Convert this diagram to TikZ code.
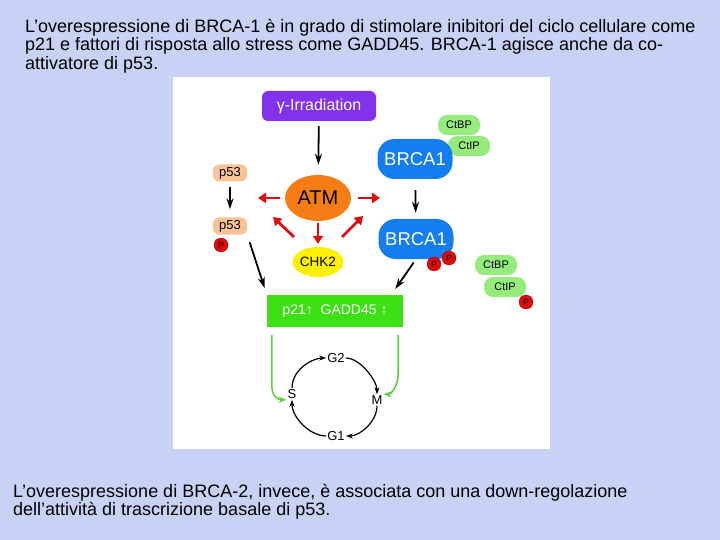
\documentclass[tikz,border=0pt]{standalone}
\usepackage{fontspec}
\setmainfont{Liberation Sans}
\usetikzlibrary{arrows.meta, positioning, shapes.geometric}

\definecolor{slidebg}{RGB}{200,210,245}
\definecolor{gammapurple}{RGB}{130,50,235}
\definecolor{atmorange}{RGB}{245,125,20}
\definecolor{chkyellow}{RGB}{255,240,0}
\definecolor{peach}{RGB}{250,195,150}
\definecolor{brcablue}{RGB}{20,125,240}
\definecolor{palegreen}{RGB}{150,235,125}
\definecolor{boxgreen}{RGB}{60,225,20}
\definecolor{arrowgreen}{RGB}{90,210,60}
\definecolor{pred}{RGB}{225,10,10}

\begin{document}
\begin{tikzpicture}[
  x=1pt, y=-1pt,
  slidetext/.style={anchor=base west, inner sep=0pt, font=\fontsize{18}{18}\selectfont},
  prot/.style={rectangle, rounded corners=6pt, minimum width=34pt, minimum height=17pt, inner sep=0pt, font=\fontsize{13}{13}\selectfont},
  partner/.style={rectangle, rounded corners=9pt, fill=palegreen, minimum width=42pt, minimum height=20pt, inner sep=0pt, font=\fontsize{11}{11}\selectfont},
  brca/.style={rectangle, rounded corners=17pt, fill=brcablue, text=white, minimum width=75pt, minimum height=40pt, inner sep=0pt, font=\fontsize{18.5}{18.5}\selectfont},
  phos/.style={circle, fill=pred, draw=red!60!black, line width=0.3pt, minimum size=14pt, inner sep=0pt, font=\fontsize{9}{9}\selectfont},
  phase/.style={inner sep=1pt, font=\fontsize{13}{13}\selectfont},
  blk/.style={-{Stealth[length=11pt,width=7pt]}, line width=1.8pt},
  redarr/.style={-{Triangle[length=8pt,width=10pt]}, line width=2.8pt, draw=pred},
  grnarr/.style={-{Stealth[length=8pt,width=6pt]}, line width=1.6pt, draw=arrowgreen},
  cyc/.style={-{Stealth[length=7pt,width=5pt]}, line width=1.2pt},
]
  % slide background and white panel
  \fill[slidebg] (0,0) rectangle (720,540);
  \useasboundingbox (0,0) rectangle (720,540);
  \fill[white] (173,77) rectangle (550,449);

  % text above the figure
  \node[slidetext] (title1) at (25,32.5) {L’overespressione di BRCA-1 è in grado di stimolare inibitori del ciclo cellulare come};
  \node[slidetext] (title2) at (25,51) {p21 e fattori di risposta allo stress come GADD45. BRCA-1 agisce anche da co-};
  \node[slidetext] (title3) at (25,69.5) {attivatore di p53.};

  % upstream signal
  \node[rectangle, rounded corners=6pt, fill=gammapurple, text=white, minimum width=114pt, minimum height=30pt, inner sep=0pt, font=\fontsize{16}{16}\selectfont] (gamma) at (319,106) {γ-Irradiation};
  \node[ellipse, fill=atmorange, minimum width=66pt, minimum height=46pt, inner sep=0pt, font=\fontsize{20}{20}\selectfont] (atm) at (318,198) {ATM};
  \node[ellipse, fill=chkyellow, minimum width=44pt, minimum height=30pt, inner sep=0pt, font=\fontsize{13.5}{13.5}\selectfont] (chk2) at (318,262) {CHK2};

  % p53 side
  \node[prot, fill=peach] (p53a) at (230,173) {p53};
  \node[prot, fill=peach] (p53b) at (230,226) {p53};
  \node[phos] (p53p) at (221,245) {P};

  % BRCA1 side
  \node[partner] (ctbpa) at (459,125) {CtBP};
  \node[partner] (ctipa) at (469,146) {CtIP};
  \node[brca] (brcaa) at (415,159) {BRCA1};
  \node[brca] (brcab) at (416,239) {BRCA1};
  \node[phos] (brcap1) at (434,264) {P};
  \node[phos] (brcap2) at (449,258) {P};
  \node[partner] (ctbpb) at (496,265) {CtBP};
  \node[partner] (ctipb) at (505,287) {CtIP};
  \node[phos] (ctipp) at (526,302) {P};

  % target genes
  \node[rectangle, fill=boxgreen, text=white, minimum width=136pt, minimum height=32pt, inner sep=0pt, font=\fontsize{14}{14}\selectfont] (gbox) at (335,311) {p21\textbf{↑}\ \ GADD45 \textbf{↑}};

  % cell cycle
  \node[phase] (g2) at (336,358) {G2};
  \node[phase] (sph) at (292,394) {S};
  \node[phase] (mph) at (377,400) {M};
  \node[phase] (g1) at (336,436) {G1};

  % free ends of the ATM arrows
  \coordinate (atmleft) at (258,198);
  \coordinate (atmright) at (380,198);
  \coordinate (atmul) at (273,217);
  \coordinate (atmur) at (363,216);
  \coordinate (ulstart) at (294,237);
  \coordinate (urstart) at (342,237);

  % connectors
  \draw[blk, shorten <=5pt, shorten >=10pt] (gamma) -- (atm);
  \draw[blk, shorten <=5pt, shorten >=8pt] (p53a) -- (p53b);
  \draw[blk, shorten <=11pt, shorten >=6pt] (brcaa) -- (brcab);
  \draw[blk, shorten <=8pt, shorten >=7pt] (p53b.south east) -- (gbox.north west);
  \draw[blk, shorten <=4pt, shorten >=7pt] (brcab.south) -- ([xshift=-12pt]gbox.north east);

  \draw[redarr, shorten <=5pt] (atm.west) -- (atmleft);
  \draw[redarr, shorten <=7pt] (atm.east) -- (atmright);
  \draw[redarr, shorten <=2pt, shorten >=3pt] (atm.south) -- (chk2.north);
  \draw[redarr] (ulstart) -- (atmul);
  \draw[redarr] (urstart) -- (atmur);

  \draw[grnarr] (gbox.south west) ++(5,8) -- ++(0,50) .. controls +(0,12) and +(-8,0) .. (sph.south west);
  \draw[grnarr] (gbox.south east) ++(-5,8) -- ++(0,38) .. controls +(0,12) and +(8,0) .. (mph.north east);

  \draw[cyc] (sph.north) .. controls +(0,-20) and +(-12,0) .. (g2.west);
  \draw[cyc] (g2.east) .. controls +(14,0) and +(0,-14) .. (mph.north);
  \draw[cyc] (mph.south) .. controls +(0,16) and +(14,0) .. (g1.east);
  \draw[cyc] (g1.west) .. controls +(-16,0) and +(0,18) .. (sph.south);

  % text below the figure
  \node[slidetext] (foot1) at (13,497) {L’overespressione di BRCA-2, invece, è associata con una down-regolazione};
  \node[slidetext] (foot2) at (13,515) {dell’attività di trascrizione basale di p53.};
\end{tikzpicture}
\end{document}
